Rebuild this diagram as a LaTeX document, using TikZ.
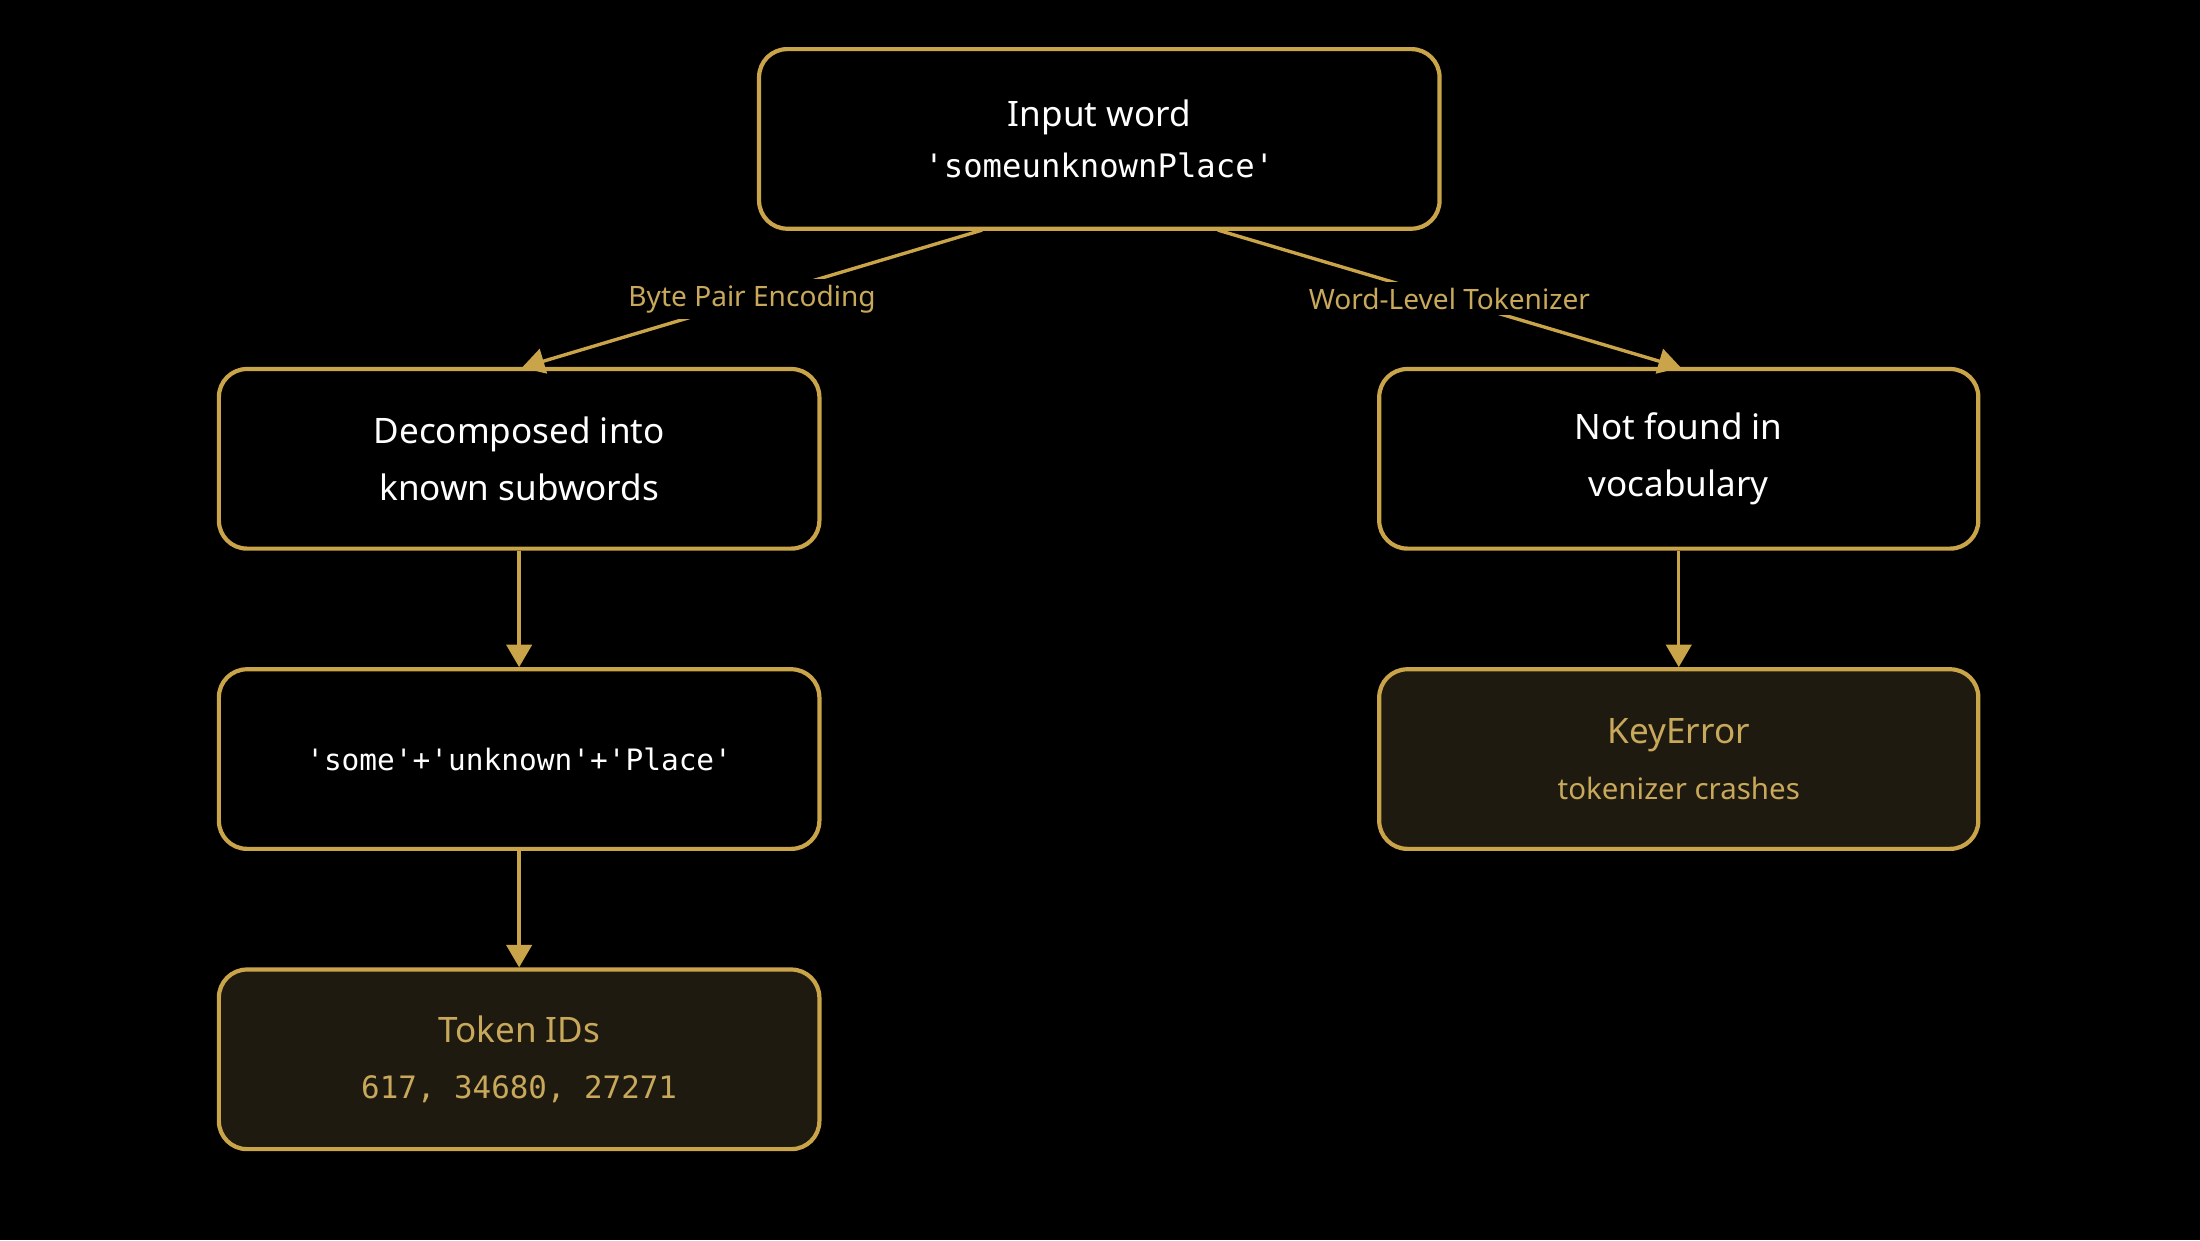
\documentclass[tikz,border=0pt]{standalone}
\usepackage{fontspec}
\setmainfont{Noto Sans}
\newfontfamily\mono{DejaVu Sans Mono}
\usetikzlibrary{arrows.meta}
\definecolor{gold}{HTML}{C9A449}
\definecolor{lbl}{HTML}{C8A85A}
\definecolor{dark}{HTML}{1E1A10}
\begin{document}
\begin{tikzpicture}[x=0.5pt,y=-0.5pt,
  box/.style={draw=gold,line width=1.5pt,rounded corners=10pt,fill=black,text=white,align=center,font=\fontsize{12.5}{20}\selectfont},
  res/.style={box,fill=dark,text=lbl},
  arr/.style={draw=gold,line width=1.2pt,-{Triangle[length=8pt,width=9pt]}},
  elbl/.style={fill=black,text=lbl,font=\fontsize{10}{12}\selectfont,inner sep=2pt}]
\fill[black] (0,0) rectangle (1568,884);
\node[box,minimum width=242.5pt,minimum height=64pt] (top) at (783.5,99) {Input word\\[-2pt]{\mono\fontsize{11.5}{14}\selectfont 'someunknownPlace'}};
\node[box,minimum width=214pt,minimum height=64pt] (dec) at (370,327) {Decomposed into\\known subwords};
\node[box,minimum width=214pt,minimum height=64pt] (sub) at (370,541) {{\mono\fontsize{10.5}{14}\selectfont 'some'+'unknown'+'Place'}};
\node[res,minimum width=214pt,minimum height=64pt] (ids) at (370,755) {\textbf{Token IDs}\\{\mono\fontsize{11}{14}\selectfont 617, 34680, 27271}};
\node[box,minimum width=213.5pt,minimum height=64pt] (nf) at (1196.5,327) {Not found in\\vocabulary};
\node[res,minimum width=213.5pt,minimum height=64pt] (ke) at (1196.5,541) {\textbf{KeyError}\\{\fontsize{10.5}{14}\selectfont tokenizer crashes}};
\coordinate (tl) at (700,164);
\coordinate (tr) at (868,164);
\coordinate (dl) at (372,262);
\coordinate (dr) at (1198,262);
\draw[arr] (tl) -- node[elbl,pos=0.5]{Byte Pair Encoding} (dl);
\draw[arr] (tr) -- node[elbl,pos=0.5]{Word-Level Tokenizer} (dr);
\draw[arr] (dec) -- (sub);
\draw[arr] (sub) -- (ids);
\draw[arr] (nf) -- (ke);
\end{tikzpicture}
\end{document}
